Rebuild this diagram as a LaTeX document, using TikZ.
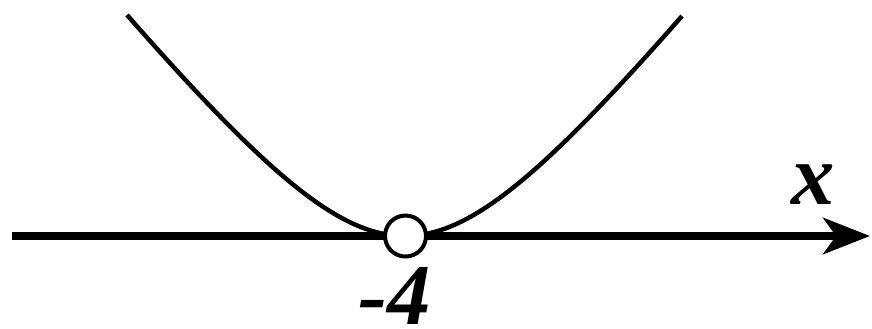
\documentclass[tikz,border=0pt]{standalone}
\usepackage{fontspec}
\setmainfont{Liberation Serif}
\usetikzlibrary{arrows.meta}
\begin{document}
\begin{tikzpicture}[x=0.03cm,y=-0.03cm,
  axisline/.style={line width=6.4pt,-{Stealth[length=40pt,width=31pt,inset=11pt]}},
  curveline/.style={line width=3.8pt},
  holept/.style={circle,draw,fill=white,line width=3.4pt,minimum size=1.23cm,inner sep=0pt},
  lbl/.style={inner sep=0pt,font=\fontsize{74}{74}\selectfont\bfseries\itshape}]
\useasboundingbox (0,0) rectangle (872,328);
\coordinate (a0) at (12,236);
\coordinate (a1) at (870,236);
\draw[axisline] (a0) -- (a1);
\draw[curveline] plot[domain=-278:277,samples=200,smooth]
  ({405+\x},{236-100*(sqrt(1.687*1.687+(1.264*\x/100)*(1.264*\x/100))-1.687)});
\node[holept] (p) at (405.5,236) {};
\node[lbl,anchor=base] (xl) at (813,204) {x};
\node[lbl,anchor=base] (nl) at (395,324) {-4};
\end{tikzpicture}
\end{document}
